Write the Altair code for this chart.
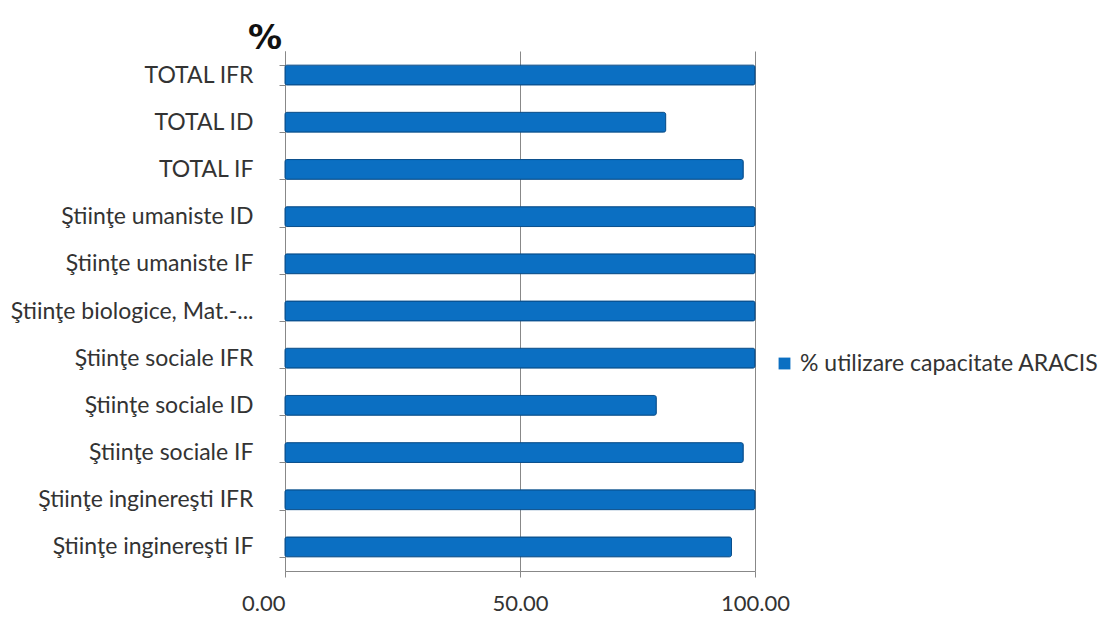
import altair as alt
import pandas as pd

categories = [
    "TOTAL IFR",
    "TOTAL ID",
    "TOTAL IF",
    "Ştiinţe umaniste ID",
    "Ştiinţe umaniste IF",
    "Ştiinţe biologice, Mat.-...",
    "Ştiinţe sociale IFR",
    "Ştiinţe sociale ID",
    "Ştiinţe sociale IF",
    "Ştiinţe inginereşti IFR",
    "Ştiinţe inginereşti IF",
]
values = [100, 81, 97.5, 100, 100, 100, 100, 79, 97.5, 100, 95]
series = "% utilizare capacitate ARACIS"
x_ticks = [0, 50, 100]

df = pd.DataFrame({"cat": categories, "val": values, "series": [series] * len(categories)})

FONT = "Lato"
TXT = "#333333"
BLUE = "#0b6fc2"

bars = alt.Chart(df).mark_bar(
    stroke="#0a4f8c", strokeWidth=1, cornerRadius=2
).encode(
    y=alt.Y(
        "cat:N",
        sort=categories,
        title=None,
        scale=alt.Scale(paddingInner=0.58, paddingOuter=0.3),
        axis=alt.Axis(
            labelFont=FONT, labelFontSize=23, labelColor=TXT,
            labelPadding=26, tickSize=6, tickColor="#888888",
            domainColor="#888888", tickBand="extent", labelLimit=320,
        ),
    ),
    x=alt.X(
        "val:Q",
        title=None,
        scale=alt.Scale(domain=[0, 100], nice=False),
        axis=alt.Axis(
            values=x_ticks, format=".2f", labelFont=FONT, labelFontSize=22,
            labelColor=TXT, labelPadding=16, tickSize=6, tickColor="#888888",
            domainColor="#888888", grid=True, gridColor="#888888", gridWidth=1,
            labelAlign={"condition": {"test": "datum.value == 0", "value": "right"}, "value": "center"},
            labelFlush=False,
        ),
    ),
    color=alt.Color(
        "series:N",
        scale=alt.Scale(range=[BLUE]),
        legend=alt.Legend(
            title=None, orient="none", legendX=488, legendY=301,
            symbolType="square", symbolSize=140, symbolStrokeWidth=0,
            labelFont=FONT, labelFontSize=23, labelColor=TXT, labelLimit=400,
            labelOffset=4,
        ),
    ),
)

chart = bars.properties(
    width=470,
    height=520,
    autosize=alt.AutoSizeParams(type="none"),
    padding={"left": 277, "top": 43, "right": 350, "bottom": 45},
    title=alt.TitleParams(
        "%", anchor="start", frame="group", dx=-37, dy=20, offset=4,
        font="DejaVu Sans", fontSize=34, fontWeight="bold", color="#111111",
    ),
).configure_view(stroke=None)

chart.save("out.html", embed_options={"renderer": "svg", "actions": False})
